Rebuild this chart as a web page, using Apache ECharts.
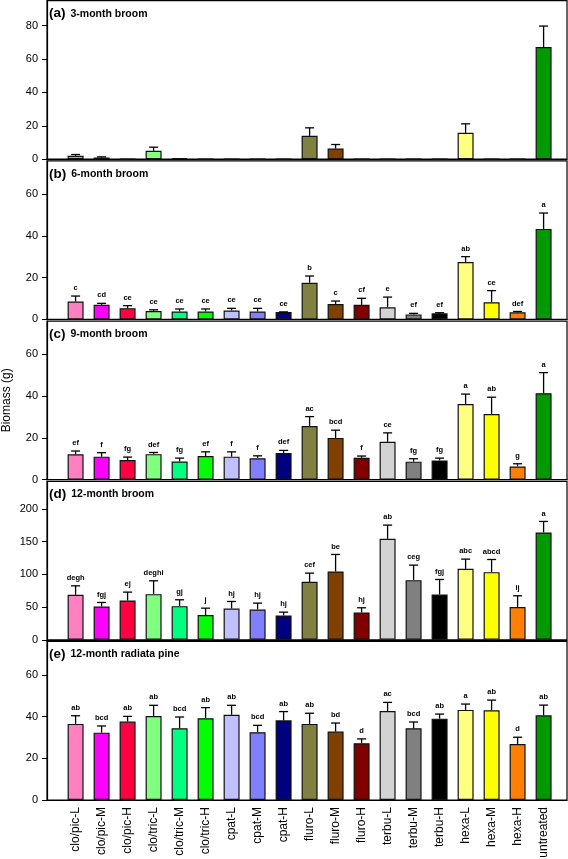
<!DOCTYPE html>
<html><head><meta charset="utf-8">
<script src="https://cdn.jsdelivr.net/npm/echarts@6/dist/echarts.min.js"></script>
<style>html,body{margin:0;padding:0;background:#fff}#c{width:568px;height:859px}</style>
</head><body><div id="c"></div>
<script>
const categories = ['clo/pic-L','clo/pic-M','clo/pic-H','clo/tric-L','clo/tric-M','clo/tric-H','cpat-L','cpat-M','cpat-H','fluro-L','fluro-M','fluro-H','terbu-L','terbu-M','terbu-H','hexa-L','hexa-M','hexa-H','untreated'];
const barColors = ['#FF80C0','#FF00FF','#FF0040','#80FF80','#00FF80','#00FF00','#C0C0FF','#8080FF','#000080','#808040','#804000','#800000','#D3D3D3','#808080','#000000','#FFFF80','#FFFF00','#FF8000','#009900'];

const panelTags = ['(a)','(b)','(c)','(d)','(e)'];
const panelNames = ['3-month broom','6-month broom','9-month broom','12-month broom','12-month radiata pine'];
const yMax = [95, 76, 76, 242, 76];
const yTicks = [[0,20,40,60,80],[0,20,40,60],[0,20,40,60],[0,50,100,150,200],[0,20,40,60]];

const meanA = [2.0,1.0,0,5.0,0.6,0,0,0,0,14.0,6.4,0,0,0,0,15.8,0,0,67.2];
const seA   = [0.8,0.4,0,2.2,0,0,0,0,0,4.8,2.4,0,0,0,0,5.4,0,0,12.6];
const lettersA = ['','','','','','','','','','','','','','','','','','',''];

const meanB = [8.6,7.0,5.4,4.0,3.8,3.8,4.3,3.8,3.5,17.6,7.4,7.0,5.8,2.4,2.9,27.5,8.2,3.4,43.4];
const seB   = [2.6,0.7,1.2,0.6,1.2,1.2,1.0,1.5,0.1,3.2,1.4,3.1,4.9,0.5,0.3,2.6,5.6,0.4,7.6];
const lettersB = ['c','cd','ce','ce','ce','ce','ce','ce','ce','b','c','cf','e','ef','ef','ab','ce','def','a'];

const meanC = [12.1,11.0,9.4,12.2,8.7,11.3,11.0,10.2,12.7,25.7,20.0,10.5,18.1,8.6,9.2,36.2,31.4,6.3,41.4];
const seC   = [1.6,1.9,1.4,0.8,1.6,2.0,2.3,1.2,1.3,4.5,3.7,0.8,4.3,1.4,1.1,4.8,8.1,1.3,9.9];
const lettersC = ['ef','f','fg','def','fg','ef','f','f','def','ac','bcd','f','ce','fg','fg','a','ab','g','a'];

const meanD = [68.7,50.9,60.1,69.7,51.4,37.7,47.8,46.3,37.2,88.5,104.3,41.7,154.2,91.1,69.2,108.4,103.3,49.9,163.9];
const seD   = [13.7,6.1,12.7,20.4,9.7,10.6,10.7,9.7,5.0,13.3,26.0,7.2,20.9,22.9,22.9,14.8,19.3,17.3,16.8];
const lettersD = ['degh','fgj','ej','deghi','gj','j','hj','hj','hj','cef','be','hj','ab','ceg','fgj','abc','abcd','ij','a'];

const meanE = [36.5,32.3,37.6,40.3,34.4,39.2,40.9,32.5,38.2,36.5,32.8,27.2,42.7,34.4,39.0,43.2,43.0,26.8,40.6];
const seE   = [3.9,3.2,2.5,5.1,5.4,5.1,4.5,3.3,4.2,5.1,4.1,2.1,4.1,3.0,2.2,2.8,4.9,3.3,4.9];
const lettersE = ['ab','bcd','ab','ab','bcd','ab','ab','bcd','ab','ab','bd','d','ac','bcd','ab','a','ab','d','ab'];

const means = [meanA, meanB, meanC, meanD, meanE];
const ses = [seA, seB, seC, seD, seE];
const letters = [lettersA, lettersB, lettersC, lettersD, lettersE];

const FONT = 'Liberation Sans, Arial, Helvetica, sans-serif';
const panelTops = [0.7, 160.9, 321.1, 481.3, 641.5];
const panelH = 158.5;
const catIdx = categories.map((c, i) => i);

const grids = [], xAxes = [], yAxes = [], series = [], titles = [];
for (let k = 0; k < 5; k++) {
  grids.push({left: 47, width: 520, top: panelTops[k], height: panelH, containLabel: false, outerBoundsMode: 'none', show: true, borderColor: '#000', borderWidth: 1.2, backgroundColor: 'transparent'});
  xAxes.push({
    gridIndex: k, type: 'value', min: -1.1, max: 18.9,
    axisLine: {show: true, onZero: false, lineStyle: {color: '#000', width: 1.2}},
    axisTick: {show: false}, splitLine: {show: false},
    axisLabel: k === 4 ? {
      show: true, customValues: catIdx, rotate: 90, margin: 7,
      fontSize: 12, color: '#000', fontFamily: FONT,
      formatter: v => categories[Math.round(v)] || ''
    } : {show: false}
  });
  yAxes.push({
    gridIndex: k, type: 'value', min: 0, max: yMax[k],
    axisLine: {show: true, onZero: false, lineStyle: {color: '#000', width: 1.2}},
    axisTick: {show: true, customValues: yTicks[k], length: 5, lineStyle: {color: '#000', width: 1}},
    splitLine: {show: false},
    axisLabel: {customValues: yTicks[k], fontSize: 11, color: '#000', fontFamily: FONT, margin: 9},
    name: k === 2 ? 'Biomass (g)' : '', nameLocation: 'middle', nameGap: 34, nameRotate: 90,
    nameTextStyle: {fontSize: 12, color: '#000', fontFamily: FONT}
  });
  series.push({
    type: 'bar', xAxisIndex: k, yAxisIndex: k, barWidth: 16, z: 2,
    itemStyle: {borderColor: '#111', borderWidth: 1.2},
    data: means[k].map((v, i) => ({value: [i, v], itemStyle: {color: barColors[i]}}))
  });
  const lt = letters[k];
  series.push({
    type: 'custom', xAxisIndex: k, yAxisIndex: k, z: 3,
    data: means[k].map((v, i) => [i, v, ses[k][i]]),
    renderItem: (params, api) => {
      const i = api.value(0), m = api.value(1), se = api.value(2);
      const b = api.coord([i, m]);
      const t = api.coord([i, m + se]);
      const ch = [];
      if (se > 0) {
        ch.push({type: 'line', shape: {x1: b[0], y1: b[1], x2: t[0], y2: t[1]}, style: {stroke: '#000', lineWidth: 1.3}});
        ch.push({type: 'line', shape: {x1: t[0] - 4.5, y1: t[1], x2: t[0] + 4.5, y2: t[1]}, style: {stroke: '#000', lineWidth: 1.3}});
      }
      const L = lt[params.dataIndex];
      if (L) {
        ch.push({type: 'text', x: t[0], y: t[1] - 8, style: {text: L, fill: '#000', font: 'bold 7.5px ' + FONT, align: 'center', verticalAlign: 'middle'}});
      }
      return {type: 'group', children: ch};
    }
  });
  titles.push({
    left: 49, top: panelTops[k] + 4, padding: 0,
    text: '{t|' + panelTags[k] + '} {n|' + panelNames[k] + '}',
    textStyle: {rich: {
      t: {fontSize: 13.5, fontWeight: 'bold', color: '#000', fontFamily: FONT},
      n: {fontSize: 10.5, fontWeight: 'bold', color: '#000', fontFamily: FONT}
    }}
  });
}

const chart = echarts.init(document.getElementById('c'), null, {renderer: 'canvas'});
chart.setOption({
  animation: false,
  backgroundColor: '#fff',
  title: titles,
  grid: grids, xAxis: xAxes, yAxis: yAxes, series: series
});
</script></body></html>
